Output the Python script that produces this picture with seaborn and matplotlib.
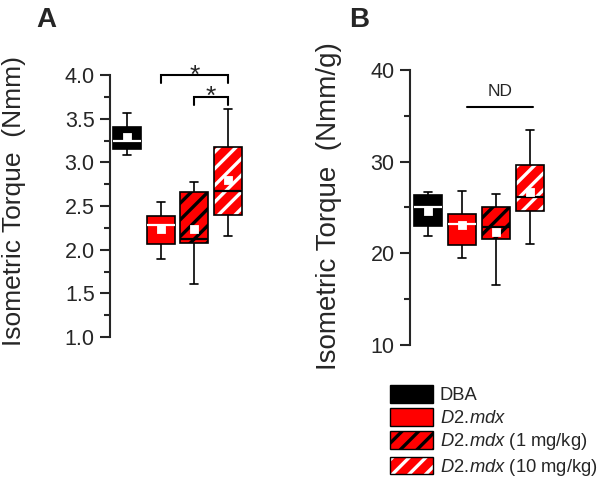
import numpy as np
import pandas as pd
import matplotlib
matplotlib.use("Agg")
import matplotlib.pyplot as plt
import matplotlib.patches as mpatches
from matplotlib.ticker import MultipleLocator, FormatStrFormatter
import seaborn as sns

# groups and colours
groups = ["DBA", "D2.mdx", "D2.mdx 1", "D2.mdx 10"]
fill_colors = ["black", "red", "red", "red"]

# panel A - isometric torque (Nmm): whisker low, Q1, median, Q3, whisker high, mean
a_lo = [3.08, 1.89, 1.61, 2.16]
a_q1 = [3.15, 2.07, 2.08, 2.40]
a_med = [3.24, 2.28, 2.12, 2.67]
a_q3 = [3.41, 2.38, 2.66, 3.17]
a_hi = [3.57, 2.55, 2.78, 3.61]
a_mean = [3.29, 2.24, 2.24, 2.80]

# panel B - isometric torque normalised (Nmm/g)
b_lo = [21.9, 19.5, 16.6, 21.0]
b_q1 = [23.0, 20.9, 21.6, 24.6]
b_med = [25.0, 23.2, 22.9, 26.1]
b_q3 = [26.4, 24.3, 25.0, 29.6]
b_hi = [26.7, 26.8, 26.5, 33.5]
b_mean = [24.6, 23.1, 22.3, 26.7]

# significance marks
a_pairs = [(1, 3), (2, 3)]
a_bracket_y = [4.0, 3.75]
a_marks = ["*", "*"]
b_nd_span = (1.15, 3.08)
b_nd_y = 36.0

legend_labels = ["DBA", r"$\mathit{D2.\!mdx}$",
                 r"$\mathit{D2.\!mdx}$ (1 mg/kg)", r"$\mathit{D2.\!mdx}$ (10 mg/kg)"]

sns.set_style("ticks")
plt.rcParams["font.family"] = ["Liberation Sans", "DejaVu Sans"]
plt.rcParams["mathtext.fontset"] = "custom"
plt.rcParams["mathtext.rm"] = "Liberation Sans"
plt.rcParams["mathtext.it"] = "Liberation Sans:italic"
plt.rcParams["hatch.linewidth"] = 2.4


def box_frame(lo, q1, med, q3, hi):
    rows = []
    for g, vals in zip(groups, zip(lo, q1, med, q3, hi)):
        rows += [(g, v) for v in vals]
    return pd.DataFrame(rows, columns=["group", "value"])


def draw_panel(ax, lo, q1, med, q3, hi, mean):
    df = box_frame(lo, q1, med, q3, hi)
    sns.boxplot(data=df, x="group", y="value", hue="group", order=groups,
                hue_order=groups, palette=fill_colors, saturation=1,
                width=0.83, whis=(0, 100), showfliers=False, linecolor="black",
                linewidth=1.2, capwidths=0.24, legend=False, ax=ax,
                medianprops=dict(linewidth=1.6))
    # hatching + outline
    for patch in list(ax.patches):
        i = int(round(patch.get_path().vertices[:, 0].mean()))
        if i == 2:
            patch.set_hatch("//")
            patch.set_edgecolor("black")
        elif i == 3:
            patch.set_hatch("//")
            patch.set_edgecolor("white")
            patch.set_linewidth(0)
            ax.add_patch(mpatches.PathPatch(patch.get_path(), fill=False,
                                            edgecolor="black", linewidth=1.2,
                                            transform=patch.get_transform(),
                                            zorder=patch.get_zorder()))
    # white medians on the two plain boxes
    for line in ax.lines:
        x = np.asarray(line.get_xdata(), float)
        y = np.asarray(line.get_ydata(), float)
        if len(y) == 2 and y[0] == y[1]:
            i = int(round(x.mean()))
            if i in (0, 1) and np.isclose(y[0], med[i]):
                line.set_color("white")
    # means
    sns.pointplot(x=groups, y=mean, order=groups, color="white", markers="s",
                  linestyle="none", markersize=5, errorbar=None, ax=ax, zorder=10)

    ax.spines[["top", "right", "bottom"]].set_visible(False)
    ax.spines["left"].set_linewidth(1.5)
    ax.set_xticks([])
    ax.set_xlabel("")
    ax.set_ylabel("")
    ax.tick_params(axis="y", which="major", length=7, width=1.5, labelsize=15.5, pad=4)
    ax.tick_params(axis="y", which="minor", length=4, width=1.5)


fig = plt.figure(figsize=(6, 4.79), dpi=100)
W, H = 600, 479

# Panel A
ax_a = fig.add_axes([110 / W, (H - 337) / H, 134.8 / W, 262 / H])
draw_panel(ax_a, a_lo, a_q1, a_med, a_q3, a_hi, a_mean)
ax_a.set_xlim(-0.5, 3.5)
ax_a.set_ylim(1.0, 4.0)
ax_a.yaxis.set_major_locator(MultipleLocator(0.5))
ax_a.yaxis.set_minor_locator(MultipleLocator(0.25))
ax_a.yaxis.set_major_formatter(FormatStrFormatter("%.1f"))
for (x1, x2), y, mark in zip(a_pairs, a_bracket_y, a_marks):
    ax_a.plot([x1, x1, x2, x2], [y - 0.09, y, y, y - 0.09], color="black",
              lw=1.5, clip_on=False, solid_joinstyle="miter")
    ax_a.text((x1 + x2) / 2, y - 0.085, mark, ha="center", va="baseline", fontsize=19)

# Panel B
ax_b = fig.add_axes([410 / W, (H - 345) / H, 137 / W, 275 / H])
draw_panel(ax_b, b_lo, b_q1, b_med, b_q3, b_hi, b_mean)
ax_b.set_xlim(-0.53, 3.5)
ax_b.set_ylim(10, 40)
ax_b.yaxis.set_major_locator(MultipleLocator(10))
ax_b.yaxis.set_minor_locator(MultipleLocator(5))
ax_b.plot(list(b_nd_span), [b_nd_y, b_nd_y], color="black", lw=1.5, clip_on=False)
ax_b.text(sum(b_nd_span) / 2, b_nd_y + 0.8, "ND", ha="center", va="bottom", fontsize=12.5)

# axis titles and panel letters
fig.text(14 / W, 1 - 201 / H, "Isometric Torque  (Nmm)", rotation=90,
         ha="center", va="center", fontsize=19)
fig.text(329 / W, 1 - 206 / H, "Isometric Torque  (Nmm/g)", rotation=90,
         ha="center", va="center", fontsize=20)
fig.text(36 / W, 1 - 27 / H, "A", fontsize=20, fontweight="bold", ha="left", va="baseline")
fig.text(349 / W, 1 - 27 / H, "B", fontsize=20, fontweight="bold", ha="left", va="baseline")

# legend
handles = [
    mpatches.Patch(facecolor="black", edgecolor="black"),
    mpatches.Patch(facecolor="red", edgecolor="black"),
    mpatches.Patch(facecolor="red", edgecolor="black", hatch="//"),
    (mpatches.Patch(facecolor="red", edgecolor="white", hatch="//", lw=0),
     mpatches.Patch(fill=False, edgecolor="black")),
]
fig.legend(handles, legend_labels, loc="upper left",
           bbox_to_anchor=(390 / W, 1 - 385 / H), frameon=False, fontsize=13.2,
           handlelength=2.35, handleheight=1.12, handletextpad=0.35,
           labelspacing=0.22, borderpad=0, borderaxespad=0)

fig.savefig("out.png", dpi=100)
